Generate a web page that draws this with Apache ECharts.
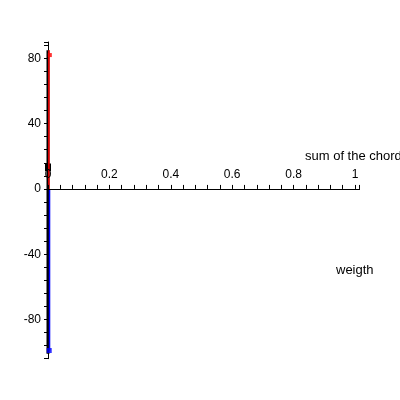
<!DOCTYPE html>
<html>
<head>
<meta charset="utf-8">
<script src="https://cdn.jsdelivr.net/npm/echarts@6/dist/echarts.min.js"></script>
<style>html,body{margin:0;padding:0;background:#fff}#c{width:400px;height:400px}</style>
</head>
<body>
<div id="c"></div>
<script>
// Data
const blackX = [0, 0];
const blackY = [85, -101];
const blockX = [0, 0];
const blockY = [11, 15.5];
const redX = [0.003, 0.003];
const redY = [85, 0];
const blueX = [0.005, 0.005];
const blueY = [0, -99];
const redPointX = [0.006];
const redPointY = [82];
const bluePointX = [0.004];
const bluePointY = [-99];
const xLabelValues = [0, 0.2, 0.4, 0.6, 0.8, 1];
const yLabelValues = [-80, -40, 0, 40, 80];
const xTitle = 'sum of the chord';
const yTitle = 'weigth';

const pairs = (xs, ys) => xs.map((x, i) => [x, ys[i]]);
const isIn = (v, arr) => arr.some(a => Math.abs(a - v) < 1e-6);
const FONT = 'Liberation Sans';

const GTOP = 42, GBOTTOM = 41.3, YMIN = -104, YMAX = 90;
const plotH = 400 - GTOP - GBOTTOM;
const zeroOffset = -plotH * (0 - YMIN) / (YMAX - YMIN);

const chart = echarts.init(document.getElementById('c'), null, {renderer: 'canvas'});
chart.setOption({
  animation: false,
  backgroundColor: '#fff',
  grid: {left: 48, right: 40.4, top: GTOP, bottom: GBOTTOM},
  xAxis: {
    type: 'value', min: 0, max: 1.015, interval: 0.04,
    position: 'bottom', offset: zeroOffset, z: 10,
    axisLine: {onZero: false, lineStyle: {color: '#000', width: 1}},
    axisTick: {show: true, inside: true, length: 4, lineStyle: {color: '#000'}},
    axisLabel: {
      inside: true, margin: 8, color: '#000', fontFamily: FONT, fontSize: 12,
      showMinLabel: true, showMaxLabel: true, hideOverlap: false,
      formatter: v => isIn(v, xLabelValues) ? String(Math.round(v * 10) / 10) : ''
    },
    splitLine: {show: false}
  },
  yAxis: {
    type: 'value', min: YMIN, max: YMAX, interval: 8,
    axisLine: {onZero: true, lineStyle: {color: '#000', width: 1}},
    axisTick: {show: true, inside: false, length: 4, lineStyle: {color: '#000'}},
    axisLabel: {
      margin: 7, color: '#000', fontFamily: FONT, fontSize: 12, hideOverlap: false,
      formatter: v => isIn(v, yLabelValues) ? String(Math.round(v)) : ''
    },
    splitLine: {show: false}
  },
  graphic: [
    {type: 'text', left: 305, top: 150, style: {text: xTitle, fill: '#000', font: '13px ' + FONT}},
    {type: 'text', left: 336, top: 264, style: {text: yTitle, fill: '#000', font: '13px ' + FONT}}
  ],
  series: [
    {type: 'line', data: pairs(blackX, blackY), showSymbol: false, lineStyle: {color: '#000', width: 3}, z: 2},
    {type: 'line', data: pairs(blockX, blockY), showSymbol: false, lineStyle: {color: '#000', width: 6, cap: 'butt'}, z: 3},
    {type: 'line', data: pairs(redX, redY), showSymbol: false, lineStyle: {color: '#ff0000', width: 1.5}, z: 4},
    {type: 'line', data: pairs(blueX, blueY), showSymbol: false, lineStyle: {color: '#0000ff', width: 1.5}, z: 4},
    {type: 'scatter', data: pairs(redPointX, redPointY), symbol: 'rect', symbolSize: 4, itemStyle: {color: '#ff0000'}, z: 5},
    {type: 'scatter', data: pairs(bluePointX, bluePointY), symbol: 'rect', symbolSize: 5, itemStyle: {color: '#0000ff'}, z: 5}
  ]
});
</script>
</body>
</html>
